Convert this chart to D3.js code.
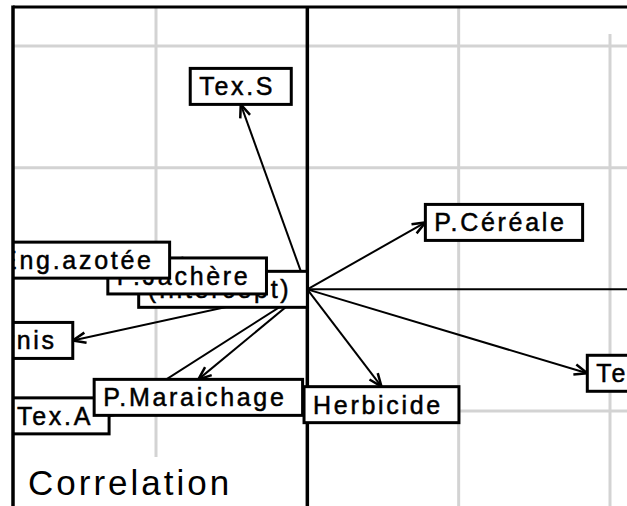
<!DOCTYPE html>
<html>
<head>
<meta charset="utf-8">
<script src="https://cdn.jsdelivr.net/npm/d3@7"></script>
<style>
body { margin: 0; background: #fff; }
text { font-family: "Liberation Sans", Arial, sans-serif; }
.lab text { font-size: 25px; letter-spacing: 2.7px; stroke: #000; stroke-width: 0.5px; }
</style>
</head>
<body>
<div id="chart"></div>
<script>
// arrow tips, in the units of the axes
var labels = ["(Intercept)", "P.Jachère", "Eng.azotée", "Eng.fournis", "Tex.A",
              "P.Maraichage", "Herbicide", "Tex.L", "P.Céréale", "Tex.S"];
var xValues = [0, -0.27, -0.91, -1.55, -1.31, -0.72, 0.49, 1.85, 0.78, -0.44];
var yValues = [0, 0.11, 0.24, -0.42, -1.04, -0.74, -0.80, -0.69, 0.55, 1.52];
var xGrid = [-1, 1, 2];
var yGrid = [-1, 1, 2];
var title = "Correlation";

var width = 627, height = 506;
var frame = {left: 13, top: 7};

var svg = d3.select("#chart").append("svg")
    .attr("width", width)
    .attr("height", height);

var x = d3.scaleLinear().domain([-1, 2]).range([156, 610]);
var y = d3.scaleLinear().domain([-1, 2]).range([411, 46]);

svg.append("clipPath").attr("id", "inside")
    .append("rect")
    .attr("x", frame.left).attr("y", frame.top)
    .attr("width", width - frame.left).attr("height", height - frame.top);

var plot = svg.append("g").attr("clip-path", "url(#inside)");

// grid
plot.selectAll(".vgrid")
    .data(xGrid)
    .enter().append("line")
    .attr("class", "vgrid")
    .attr("x1", function(d){ return x(d); })
    .attr("x2", function(d){ return x(d); })
    .attr("y1", function(d){ return d == 2 ? 34 : frame.top; })
    .attr("y2", function(d){ return d == -1 ? 457 : height; })
    .style("stroke", "#d3d3d3")
    .style("stroke-width", 3);

plot.selectAll(".hgrid")
    .data(yGrid)
    .enter().append("line")
    .attr("class", "hgrid")
    .attr("x1", frame.left)
    .attr("x2", width)
    .attr("y1", function(d){ return y(d); })
    .attr("y2", function(d){ return y(d); })
    .style("stroke", "#d3d3d3")
    .style("stroke-width", 3);

// axes through the origin
plot.append("line")
    .attr("x1", x(0)).attr("x2", width)
    .attr("y1", y(0)).attr("y2", y(0))
    .style("stroke", "#000").style("stroke-width", 2);

plot.append("line")
    .attr("x1", x(0)).attr("x2", x(0))
    .attr("y1", frame.top).attr("y2", height)
    .style("stroke", "#000").style("stroke-width", 3.5);

var rows = labels.map(function(l, i){
    return {label: l, dx: xValues[i], dy: yValues[i]};
});

function headPath(x0, y0, x1, y1){
    var a = Math.atan2(y1 - y0, x1 - x0), len = 14, w = 0.38;
    var p1 = [x1 - len*Math.cos(a - w), y1 - len*Math.sin(a - w)];
    var p2 = [x1 - len*Math.cos(a + w), y1 - len*Math.sin(a + w)];
    return "M" + p1 + "L" + x1 + "," + y1 + "L" + p2;
}

var arrows = plot.selectAll(".arrow")
    .data(rows.filter(function(d){ return d.dx != 0 || d.dy != 0; }))
    .enter().append("g")
    .attr("class", "arrow");

arrows.append("line")
    .attr("x1", x(0)).attr("y1", y(0))
    .attr("x2", function(d){ return x(d.dx); })
    .attr("y2", function(d){ return y(d.dy); })
    .style("stroke", "#000").style("stroke-width", 2);

arrows.append("path")
    .attr("d", function(d){ return headPath(x(0), y(0), x(d.dx), y(d.dy)); })
    .style("fill", "none").style("stroke", "#000").style("stroke-width", 2.5);

// labels, boxed, sitting against the tip
var boxH = 36;
var labs = plot.selectAll(".lab")
    .data(rows)
    .enter().append("g")
    .attr("class", "lab");

labs.append("rect")
    .style("fill", "#fff").style("stroke", "#000").style("stroke-width", 3);
labs.append("text").text(function(d){ return d.label; });

labs.each(function(d){
    var g = d3.select(this);
    var w = g.select("text").node().getComputedTextLength() + 25;
    var tx = x(d.dx), ty = y(d.dy), left, top;
    if (Math.abs(d.dx) >= Math.abs(d.dy)) {
        left = d.dx > 0 ? tx : tx - w;
        top = ty - boxH/2;
    } else {
        left = tx - w/2;
        top = d.dy > 0 ? ty - boxH : ty;
    }
    g.select("rect")
        .attr("x", left).attr("y", top)
        .attr("width", w).attr("height", boxH);
    g.select("text")
        .attr("x", left + 9)
        .attr("y", top + boxH/2 + 9);
});

// frame
svg.append("line")
    .attr("x1", frame.left).attr("x2", frame.left)
    .attr("y1", frame.top - 1.5).attr("y2", height)
    .style("stroke", "#000").style("stroke-width", 3.5);
svg.append("line")
    .attr("x1", frame.left).attr("x2", width)
    .attr("y1", frame.top).attr("y2", frame.top)
    .style("stroke", "#000").style("stroke-width", 3);

svg.append("text")
    .attr("x", 28)
    .attr("y", 495)
    .style("font-size", "35px")
    .style("letter-spacing", "3px")
    .style("fill", "#000")
    .text(title);
</script>
</body>
</html>
